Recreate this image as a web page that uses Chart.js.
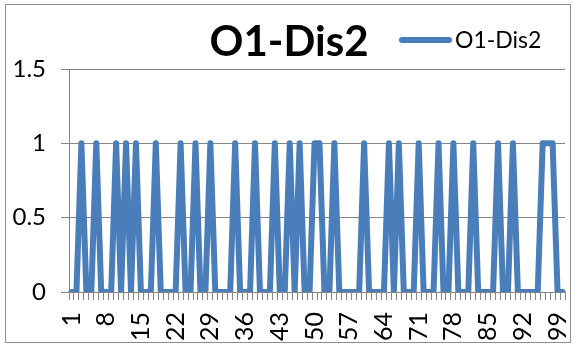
<!DOCTYPE html>
<html>
<head>
<meta charset="utf-8">
<script src="https://cdn.jsdelivr.net/npm/chart.js@4.4.1/dist/chart.umd.min.js"></script>
<style>
  html, body { margin: 0; padding: 0; background: #fff; }
  #wrap { width: 574px; height: 345px; position: relative; }
</style>
</head>
<body>
<div id="wrap"><canvas id="c" width="574" height="345"></canvas></div>
<script>
// Series name / chart title
const seriesName = 'O1-Dis2';

// Category labels 1..100
const categories = Array.from({ length: 100 }, (_, i) => String(i + 1));

// Series values, one per category
const values = [
  0, 0, 1, 0, 0, 1, 0, 0, 0, 1,
  0, 1, 0, 1, 0, 0, 0, 1, 0, 0,
  0, 0, 1, 0, 0, 1, 0, 0, 1, 0,
  0, 0, 0, 1, 0, 0, 0, 1, 0, 0,
  0, 1, 0, 0, 1, 0, 1, 0, 0, 1,
  1, 0, 0, 1, 0, 0, 0, 0, 0, 1,
  0, 0, 0, 0, 1, 0, 1, 0, 0, 0,
  1, 0, 0, 0, 1, 0, 0, 1, 0, 0,
  0, 1, 0, 0, 0, 0, 1, 0, 0, 1,
  0, 0, 0, 0, 0, 1, 1, 1, 0, 0
];

// Category labels that are printed under the axis
const xTickLabels = ['1', '8', '15', '22', '29', '36', '43', '50', '57', '64', '71', '78', '85', '92', '99'];

// Value axis range and step
const yMin = 0;
const yMax = 1.5;
const yStep = 0.5;

const lineColor = '#4a7ebb';
const gridColor = '#868686';

Chart.defaults.font.family = 'Lato';
Chart.defaults.color = '#000';

// Outer chart frame
const chartFrame = {
  id: 'chartFrame',
  beforeDraw(chart) {
    const ctx = chart.ctx;
    ctx.save();
    ctx.fillStyle = '#fff';
    ctx.fillRect(0, 0, chart.width, chart.height);
    ctx.strokeStyle = '#8c8c8c';
    ctx.lineWidth = 1;
    ctx.strokeRect(5.5, 4.5, 565, 338);
    ctx.restore();
  }
};

// Legend entry drawn on the same row as the title
const inlineLegend = {
  id: 'inlineLegend',
  afterDraw(chart) {
    const ds = chart.data.datasets[0];
    const ctx = chart.ctx;
    ctx.save();
    ctx.strokeStyle = ds.borderColor;
    ctx.lineWidth = ds.borderWidth;
    ctx.lineCap = 'round';
    ctx.beginPath();
    ctx.moveTo(402, 40);
    ctx.lineTo(449, 40);
    ctx.stroke();
    ctx.fillStyle = '#000';
    ctx.font = '23px Lato';
    ctx.textBaseline = 'middle';
    ctx.textAlign = 'left';
    ctx.fillText(ds.label, 455, 41);
    ctx.restore();
  }
};

new Chart(document.getElementById('c'), {
  type: 'line',
  data: {
    labels: categories,
    datasets: [{
      label: seriesName,
      data: values,
      borderColor: lineColor,
      backgroundColor: lineColor,
      borderWidth: 6,
      borderJoinStyle: 'round',
      borderCapStyle: 'round',
      pointRadius: 0,
      pointHoverRadius: 0,
      tension: 0,
      fill: false
    }]
  },
  options: {
    responsive: false,
    animation: false,
    devicePixelRatio: 1,
    layout: { padding: { left: 13, right: 9, top: 0, bottom: 0 } },
    plugins: {
      legend: { display: false },
      tooltip: { enabled: false },
      title: {
        display: true,
        text: seriesName,
        color: '#000',
        font: { family: 'Lato', weight: 'bold', size: 42 },
        padding: { top: 17, bottom: 1.6 }
      }
    },
    scales: {
      x: {
        type: 'category',
        offset: true,
        grid: {
          display: true,
          drawOnChartArea: false,
          drawTicks: true,
          tickLength: 8,
          offset: true,
          color: gridColor,
          lineWidth: 1
        },
        border: { display: true, color: gridColor, width: 1 },
        ticks: {
          autoSkip: false,
          minRotation: 90,
          maxRotation: 90,
          padding: 12,
          color: '#000',
          font: { size: 25 },
          callback(value) {
            const lbl = this.getLabelForValue(value);
            return xTickLabels.includes(lbl) ? lbl : '';
          }
        },
        afterFit(scale) {
          scale.height = 53;
          scale.paddingLeft = 0;
          scale.paddingRight = 0;
        }
      },
      y: {
        min: yMin,
        max: yMax,
        ticks: {
          stepSize: yStep,
          padding: 15,
          color: '#000',
          font: { size: 24 },
          callback: (v) => String(v)
        },
        grid: { color: gridColor, tickLength: 8, lineWidth: 1 },
        border: { display: true, color: gridColor, width: 1 },
        afterFit(scale) { scale.width = 56; }
      }
    }
  },
  plugins: [chartFrame, inlineLegend]
});
</script>
</body>
</html>
